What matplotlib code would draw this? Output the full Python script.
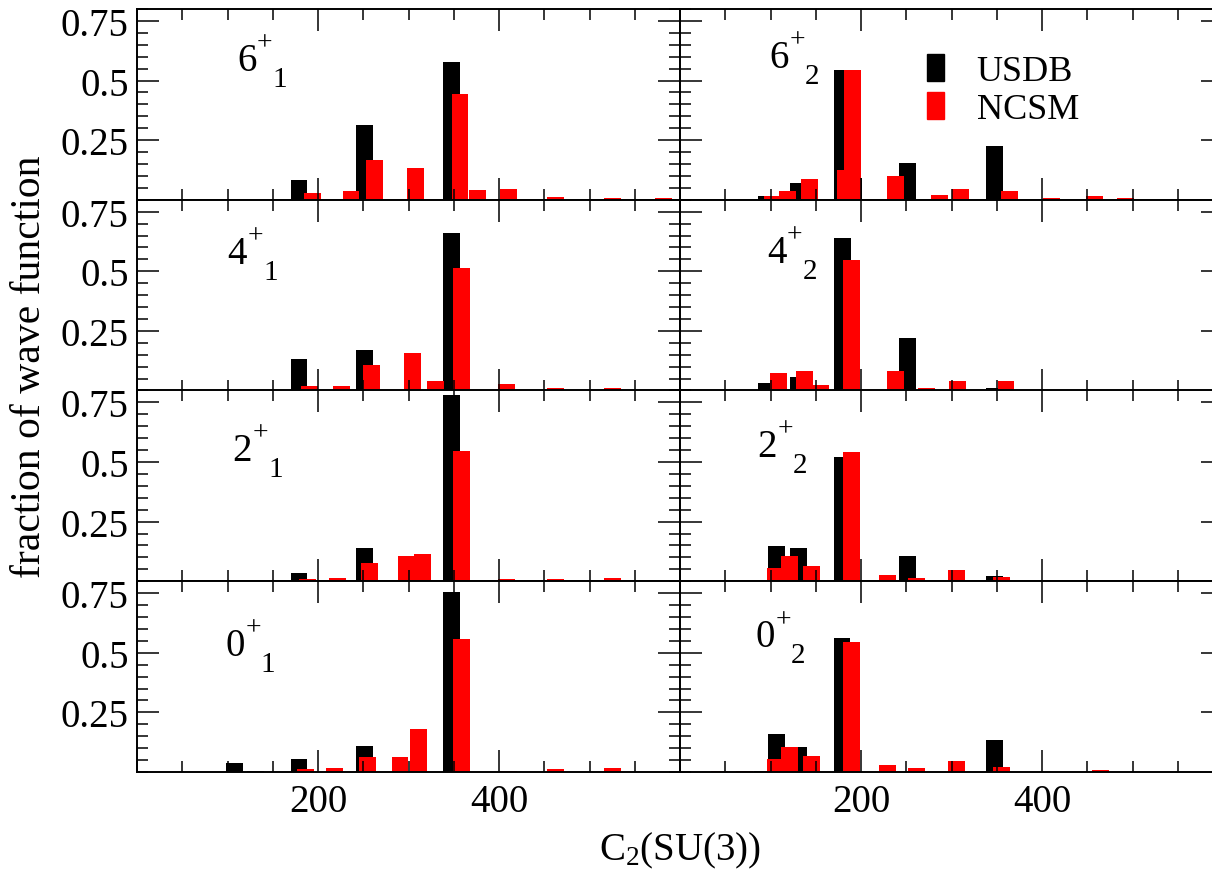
import matplotlib
matplotlib.use("Agg")
import matplotlib.pyplot as plt
from matplotlib.ticker import MultipleLocator
from matplotlib.patches import Patch

plt.rcParams["font.family"] = ["Liberation Serif", "DejaVu Serif"]
plt.rcParams["mathtext.fontset"] = "custom"
plt.rcParams["mathtext.rm"] = "Liberation Serif"
plt.rcParams["mathtext.it"] = "Liberation Serif:italic"

# ---- data: C2(SU(3)) position and fraction of wave function ----
# left column (first states)
usdb_x_6_1 = [179, 251.5, 347.6]
usdb_y_6_1 = [0.084, 0.312, 0.578]
ncsm_x_6_1 = [193.9, 236.5, 262.2, 307.4, 356.9, 375.8, 410.8, 462.5, 525.2, 581.3]
ncsm_y_6_1 = [0.029, 0.035, 0.166, 0.134, 0.442, 0.039, 0.043, 0.011, 0.007, 0.007]

usdb_x_4_1 = [179, 251.5, 347.6]
usdb_y_4_1 = [0.133, 0.169, 0.659]
ncsm_x_4_1 = [190.8, 226.3, 259.6, 304.0, 329.5, 358.9, 408.4, 462.5, 525.2]
ncsm_y_4_1 = [0.018, 0.018, 0.106, 0.156, 0.039, 0.513, 0.028, 0.010, 0.010]

usdb_x_2_1 = [179, 251.5, 347.6]
usdb_y_2_1 = [0.036, 0.140, 0.782]
ncsm_x_2_1 = [188.6, 222.0, 257.3, 297.7, 315.1, 358.3, 408.4, 462.5, 525.2]
ncsm_y_2_1 = [0.010, 0.014, 0.077, 0.106, 0.115, 0.545, 0.010, 0.008, 0.014]

usdb_x_0_1 = [107.3, 131.0, 179, 251.5, 347.6]
usdb_y_0_1 = [0.038, 0.004, 0.056, 0.110, 0.757]
ncsm_x_0_1 = [186.6, 217.8, 254.5, 290.6, 310.9, 358.3, 410.2, 462.5, 525.2]
ncsm_y_0_1 = [0.011, 0.015, 0.063, 0.061, 0.180, 0.556, 0.004, 0.013, 0.015]

# right column (second states)
usdb_x_6_2 = [95.5, 131.0, 179.5, 191.8, 251.4, 347.4]
usdb_y_6_2 = [0.017, 0.070, 0.546, 0.091, 0.153, 0.227]
ncsm_x_6_2 = [102.0, 118.4, 143.6, 183.0, 190.6, 238.0, 287.0, 310.2, 364.4, 410.2, 458.5, 491.8]
ncsm_y_6_2 = [0.017, 0.038, 0.085, 0.125, 0.546, 0.099, 0.021, 0.043, 0.035, 0.007, 0.017, 0.007]

usdb_x_4_2 = [95.1, 131.0, 179.4, 251.4, 347.4]
usdb_y_4_2 = [0.032, 0.056, 0.638, 0.219, 0.010]
ncsm_x_4_2 = [109.3, 137.9, 155.5, 189.3, 238.0, 272.4, 307.1, 360.2]
ncsm_y_4_2 = [0.074, 0.082, 0.022, 0.546, 0.082, 0.010, 0.038, 0.038]

usdb_x_2_2 = [90.9, 107.0, 131.0, 179.0, 251.4, 347.4]
usdb_y_2_2 = [0.006, 0.148, 0.141, 0.521, 0.105, 0.022]
ncsm_x_2_2 = [71.5, 105.8, 120.7, 145.6, 189.2, 228.8, 261.3, 305.2, 355.0, 464.5]
ncsm_y_2_2 = [0.006, 0.054, 0.105, 0.064, 0.542, 0.027, 0.014, 0.047, 0.018, 0.006]

usdb_x_0_2 = [90.9, 107.0, 131.0, 179.0, 347.4]
usdb_y_0_2 = [0.004, 0.158, 0.103, 0.560, 0.133]
ncsm_x_0_2 = [43.2, 71.5, 105.8, 120.7, 145.6, 189.2, 228.8, 261.3, 305.2, 355.0, 464.5]
ncsm_y_0_2 = [0.003, 0.006, 0.054, 0.106, 0.066, 0.545, 0.028, 0.015, 0.047, 0.020, 0.007]

state_spins = ["6", "4", "2", "0"]
state_index = ["1", "2"]
series_names = ["USDB", "NCSM"]
xtick_values = [200, 400]
xtick_labels = ["200", "400"]
ytick_values = [0.25, 0.5, 0.75]
ytick_labels = ["0.25", "0.5", "0.75"]

usdb_x = [[usdb_x_6_1, usdb_x_6_2], [usdb_x_4_1, usdb_x_4_2],
          [usdb_x_2_1, usdb_x_2_2], [usdb_x_0_1, usdb_x_0_2]]
usdb_y = [[usdb_y_6_1, usdb_y_6_2], [usdb_y_4_1, usdb_y_4_2],
          [usdb_y_2_1, usdb_y_2_2], [usdb_y_0_1, usdb_y_0_2]]
ncsm_x = [[ncsm_x_6_1, ncsm_x_6_2], [ncsm_x_4_1, ncsm_x_4_2],
          [ncsm_x_2_1, ncsm_x_2_2], [ncsm_x_0_1, ncsm_x_0_2]]
ncsm_y = [[ncsm_y_6_1, ncsm_y_6_2], [ncsm_y_4_1, ncsm_y_4_2],
          [ncsm_y_2_1, ncsm_y_2_2], [ncsm_y_0_1, ncsm_y_0_2]]

# label position (axes fraction, baseline of the big digit)
label_pos = [[(0.184, 0.681), (0.165, 0.696)],
             [(0.167, 0.667), (0.160, 0.672)],
             [(0.176, 0.638), (0.143, 0.655)],
             [(0.163, 0.613), (0.139, 0.658)]]

W, H = 1212, 870
fig = plt.figure(figsize=(W / 100, H / 100), dpi=100)

ax_left = 137 / W
ax_w = 543 / W
ax_top = 1 - 10 / H
ax_h = 190.75 / H
bar_w = 18.7

for r in range(4):
    for c in range(2):
        ax = fig.add_axes([ax_left + c * ax_w, ax_top - (r + 1) * ax_h, ax_w, ax_h])
        ax.bar(usdb_x[r][c], usdb_y[r][c], width=bar_w, color="black", linewidth=0)
        ax.bar(ncsm_x[r][c], ncsm_y[r][c], width=bar_w, color="red", linewidth=0)
        ax.set_xlim(0, 600)
        ax.set_ylim(0, 0.8)

        ax.xaxis.set_minor_locator(MultipleLocator(50))
        ax.yaxis.set_minor_locator(MultipleLocator(0.05))
        if r == 3:
            ax.set_xticks(xtick_values, xtick_labels)
        else:
            ax.set_xticks(xtick_values, [])
        if c == 0:
            ax.set_yticks(ytick_values, ytick_labels)
        else:
            ax.set_yticks(ytick_values, [])

        ax.tick_params(which="both", direction="in", top=True, right=True,
                       width=1.1, labelsize=28)
        ax.tick_params(which="major", length=16)
        ax.tick_params(which="minor", length=8)
        ax.tick_params(axis="x", pad=8)
        ax.tick_params(axis="y", pad=6)
        for s in ax.spines.values():
            s.set_linewidth(1.4)

        lx, ly = label_pos[r][c]
        ax.annotate(state_spins[r], xy=(lx, ly), xycoords="axes fraction",
                    fontsize=28, ha="left", va="baseline")
        ax.annotate("+", xy=(lx, ly), xycoords="axes fraction",
                    xytext=(14.4, 14.8), textcoords="offset points",
                    fontsize=20, ha="left", va="baseline")
        ax.annotate(state_index[c], xy=(lx, ly), xycoords="axes fraction",
                    xytext=(25.5, -11.5), textcoords="offset points",
                    fontsize=21, ha="left", va="baseline")

        if r == 0 and c == 1:
            handles = [Patch(color="black", label=series_names[0]),
                       Patch(color="red", label=series_names[1])]
            ax.legend(handles=handles, loc="upper left", bbox_to_anchor=(0.455, 0.765),
                      frameon=False, fontsize=26, handlelength=0.47, handleheight=0.78,
                      handletextpad=0.9, labelspacing=0.1, borderpad=0, borderaxespad=0)

fig.text(680 / W, 1 - 860 / H, r"C$_{2}$(SU(3))", ha="center", va="baseline", fontsize=28)
fig.text(30 / W, 1 - 367 / H, "fraction of wave function", rotation=90,
         ha="center", va="center", fontsize=30)

fig.savefig("out.png", dpi=100)
